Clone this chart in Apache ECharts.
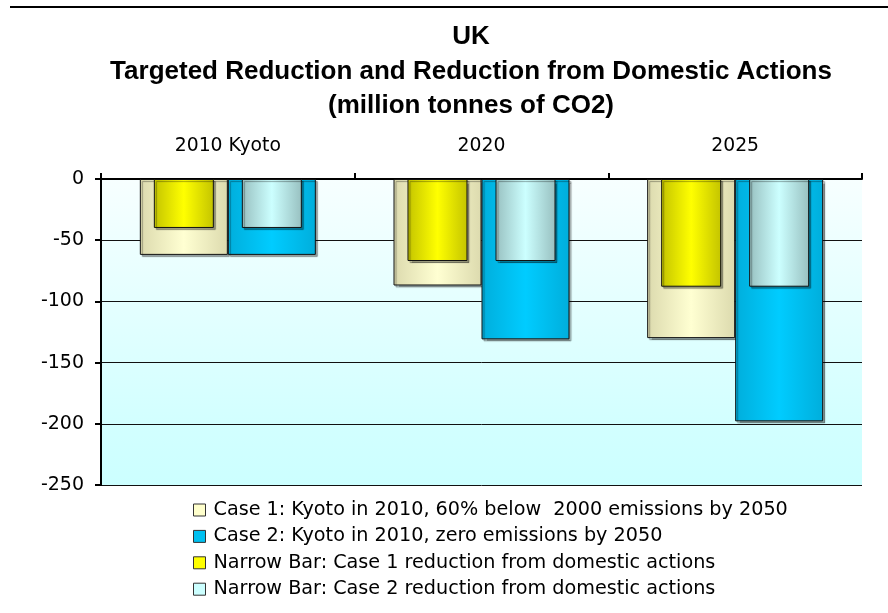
<!DOCTYPE html>
<html>
<head>
<meta charset="utf-8">
<script src="https://cdn.jsdelivr.net/npm/echarts@6/dist/echarts.min.js"></script>
<style>
html,body{margin:0;padding:0;background:#fff;}
#chart{width:888px;height:613px;}
</style>
</head>
<body>
<div id="chart"></div>
<script>
// chart values
var categories = ['2010 Kyoto', '2020', '2025'];
var case1 = [-62, -87, -130];
var case2 = [-62, -131, -198];
var narrow1 = [-40, -67, -88];
var narrow2 = [-40, -67, -88];
var legendNames = [
  'Case 1: Kyoto in 2010, 60% below  2000 emissions by 2050',
  'Case 2: Kyoto in 2010, zero emissions by 2050',
  'Narrow Bar: Case 1 reduction from domestic actions',
  'Narrow Bar: Case 2 reduction from domestic actions'
];

var FONT = 'DejaVu Sans';

function grad(edge, mid){
  return new echarts.graphic.LinearGradient(0, 0, 1, 0, [
    {offset: 0, color: edge},
    {offset: 0.5, color: mid},
    {offset: 1, color: edge}
  ]);
}

function barStyle(edge, mid){
  return {
    color: grad(edge, mid),
    borderColor: '#111',
    borderWidth: 1,
    shadowColor: 'rgba(0,0,0,0.35)',
    shadowBlur: 1,
    shadowOffsetX: 2,
    shadowOffsetY: 2
  };
}

var myChart = echarts.init(document.getElementById('chart'));

var option = {
  animation: false,
  backgroundColor: '#fff',
  title: {
    text: 'UK\nTargeted Reduction and Reduction from Domestic Actions\n(million tonnes of CO2)',
    left: 471,
    textAlign: 'center',
    top: 20,
    padding: 0,
    textStyle: {
      fontFamily: 'Liberation Sans',
      fontWeight: 'bold',
      fontSize: 26,
      lineHeight: 34.5,
      color: '#000'
    }
  },
  graphic: [{
    type: 'line',
    shape: {x1: 10, y1: 7, x2: 888, y2: 7},
    style: {stroke: '#000', lineWidth: 2}
  }],
  legend: {
    orient: 'vertical',
    left: 193,
    top: 499,
    padding: 0,
    itemWidth: 12,
    itemHeight: 12,
    itemGap: 4.4,
    icon: 'rect',
    textStyle: {fontFamily: FONT, fontSize: 19.2, lineHeight: 22, color: '#000', padding: [0, 0, 0, 3]},
    data: [
      {name: legendNames[0], itemStyle: {color: '#FFFFCC', borderColor: '#333', borderWidth: 1}},
      {name: legendNames[1], itemStyle: {color: '#00C0F0', borderColor: '#333', borderWidth: 1}},
      {name: legendNames[2], itemStyle: {color: '#FFFF00', borderColor: '#333', borderWidth: 1}},
      {name: legendNames[3], itemStyle: {color: '#CCFFFF', borderColor: '#333', borderWidth: 1}}
    ]
  },
  grid: {
    left: 101,
    right: 26,
    top: 179,
    bottom: 128,
    show: true,
    borderWidth: 0,
    backgroundColor: new echarts.graphic.LinearGradient(0, 0, 0, 1, [
      {offset: 0, color: '#F7FFFF'},
      {offset: 0.8, color: '#D2FFFF'},
      {offset: 1, color: '#CCFFFF'}
    ])
  },
  xAxis: [{
    type: 'category',
    position: 'top',
    data: categories,
    axisLine: {lineStyle: {color: '#000', width: 2}},
    axisTick: {show: true, length: 6, lineStyle: {color: '#000', width: 2}},
    axisLabel: {fontFamily: FONT, fontSize: 18.8, color: '#000', margin: 23},
    splitLine: {show: false}
  }, {
    type: 'category',
    position: 'top',
    data: categories,
    show: false
  }],
  yAxis: {
    type: 'value',
    min: -250,
    max: 0,
    interval: 50,
    axisLine: {show: true, lineStyle: {color: '#000', width: 2}},
    axisTick: {show: true, length: 6, lineStyle: {color: '#000', width: 2}},
    axisLabel: {fontFamily: FONT, fontSize: 19, color: '#000', margin: 17},
    splitLine: {show: true, lineStyle: {color: '#111', width: 1}}
  },
  series: [{
    name: legendNames[0],
    type: 'bar',
    xAxisIndex: 0,
    barWidth: 88,
    barGap: '0%',
    itemStyle: barStyle('#DCDAAE', '#FFFFD2'),
    data: case1
  }, {
    name: legendNames[1],
    type: 'bar',
    xAxisIndex: 0,
    barWidth: 88,
    barGap: '0%',
    itemStyle: barStyle('#00AEDC', '#00CCFF'),
    data: case2
  }, {
    name: legendNames[2],
    type: 'bar',
    xAxisIndex: 1,
    barWidth: 60,
    barGap: '46.67%',
    z: 3,
    itemStyle: barStyle('#C4C400', '#FFFF00'),
    data: narrow1
  }, {
    name: legendNames[3],
    type: 'bar',
    xAxisIndex: 1,
    barWidth: 60,
    barGap: '46.67%',
    z: 3,
    itemStyle: barStyle('#98C0C0', '#CCFFFF'),
    data: narrow2
  }]
};

myChart.setOption(option);
window.addEventListener('resize', function(){
  myChart.resize();
});
</script>
</body>
</html>
